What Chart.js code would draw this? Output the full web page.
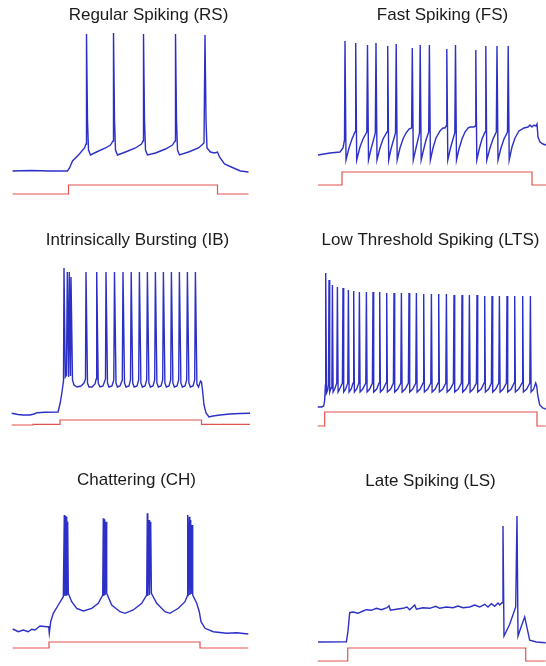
<!DOCTYPE html>
<html>
<head>
<meta charset="utf-8">
<title>Firing patterns</title>
<script src="https://cdn.jsdelivr.net/npm/chart.js@4.4.1/dist/chart.umd.min.js"></script>
<style>
    html, body { margin: 0; padding: 0; background: #ffffff; overflow: hidden; }
    #app { position: relative; width: 546px; height: 666px; }
    #app canvas { position: absolute; }
</style>
</head>
<body>
<div id="app"></div>
<script>
// Trazas: [tiempo ms, voltaje mV]
const rsVoltage = [
    [24,-71],[60,-70.5],[100,-71],[134,-71],[138,-68],[144,-61],[156,-55],[168,-48],[171,-44],
    [172,66],[174,-20],[176,-50],[180,-55],[192,-52],[210,-48],[220,-45],[225,-41],
    [226,67],[228,-20],[230,-50],[234,-55],[250,-52],[270,-48],[282,-44],[285,-41],
    [286,66],[288,-20],[290,-50],[294,-55],[310,-53],[330,-49],[344,-45],[349,-41],
    [350,66],[352,-20],[354,-50],[358,-55],[376,-52],[396,-48],[407,-43],
    [409,65],[411,-20],[413,-48],[420,-52],[428,-53],[434,-52],[438,-57],[448,-64],[466,-68],[480,-71],[496,-72]
];
const rsStimulus = [[24,-94],[136,-94],[136,-85],[434,-85],[434,-94],[496,-94]];

const fsVoltage = [
    [90,-55],[114,-53],[134,-52],[140,-48],[143,-40],
    [144,59],[146,-60],[152,-48],[158,-39],[164,-32],
    [165.4,57],[167.4,-60],[174,-47],[180,-39],[187.6,-32],
    [189,55],[191,-60],[196,-49],[201,-40],[204.6,-33],
    [206,57],[208,-60],[214,-48],[220,-39],[228,-32],
    [229.4,54],[231.4,-60],[236,-49],[241,-40],[245,-33],
    [246.4,56],[248.4,-60],[254,-48],[260,-39],[266,-33],[272,-29],[277.2,-28],
    [278.6,52],[280.6,-60],[286,-48],[293,-33],
    [294.4,55],[296.4,-60],[302,-48],[306,-40],[311.4,-32],
    [312.8,55],[314.8,-60],[320,-48],[326,-38],[334,-31],[340,-28],[344,-28],[346.2,-26],
    [347.6,51],[349.6,-60],[355,-48],[360,-39],[363.6,-33],
    [365,55],[367,-60],[372,-49],[378,-39],[384,-32],[390,-28],[394,-27],[398,-27],[402,-27],[404.2,-26],
    [405.6,50],[407.6,-60],[413,-48],[418,-39],[424.2,-32],
    [425.6,54],[427.6,-60],[434,-48],[440,-39],[446.6,-32],
    [448,54],[450,-60],[456,-48],[462,-39],[469,-32],
    [470.4,54],[472.4,-60],[478,-47],[484,-38],[492,-31],[502,-28],[510,-27],
    [514,-25],[518,-27],[522,-25],[526,-26],[528,-24],[530,-37],[534,-42],[540,-44],[546,-45]
];
const fsStimulus = [[90,-85],[138,-85],[138,-72],[518,-72],[518,-85],[546,-85]];

const ibVoltage = [
    [23.4,-88.3],[36,-89.5],[46,-90],[60,-90],[68,-89],[74,-87.7],[90,-87.3],[116,-87],[120,-79],[124,-67],[127,-56],
    [128,57],[130.6,-52],[133,-50],[134.6,53],[137.2,-52],[138.6,53],[141,-51],[142,48],[145,-55],
    [148,-60],[154,-62],[162,-61],[168,-58],[171,-54],
    [172,53],[175,-58],[178,-62],[184,-62],[190,-59],[192.4,-54],
    [193.4,53],[196.4,-58],[200,-62],[206,-61],[211,-54],
    [212,53],[215,-58],[218,-62],[224,-61],[227.6,-55],
    [229,53],[232,-58],[235,-62],[240,-61],[244.6,-55],
    [246,53],[249,-58],[252,-62],[258,-61],[261,-55],
    [262.4,53],[265.4,-58],[268.4,-62],[274,-61],[277.4,-55],
    [278.8,53],[281.8,-58],[284.8,-62],[290,-61],[293.4,-55],
    [294.8,53],[297.8,-58],[300.8,-62],[306,-61],[309.4,-55],
    [310.8,53],[313.8,-58],[316.8,-62],[322,-61],[325.4,-55],
    [326.8,53],[329.8,-58],[332.8,-62],[338,-61],[341.4,-55],
    [342.8,53],[345.8,-58],[348.8,-62],[354,-61],[357.4,-55],
    [358.8,53],[361.8,-58],[364.8,-62],[370,-61],[373.4,-55],
    [374.8,53],[377.8,-58],[380.8,-62],[386,-61],[389.4,-55],
    [390.8,53],[393.8,-59],[397,-62],[401,-56],[403,-57],[405,-65],[408,-80],[412,-88],[418,-92],
    [426,-91],[440,-90],[460,-89],[480,-88.5],[500,-88.3]
];
const ibStimulus = [[23.4,-100],[66,-100],[66,-99.3],[120,-99.3],[120,-95],[403,-95],[403,-99.3],[500,-99.3]];

const ltsVoltage = [
    [90,-82],[98,-82],[102,-81],[104,-75],[105.4,-60],
    [106,52],[107.6,-68],[110,-65],[111.6,-59],
    [112.6,45],[114,-67],[116.6,-63],[118.4,-59],
    [119.4,40],[120.8,-67],[124,-64],[128.2,-58],
    [129.4,38],[130.8,-67],[134,-64],[139.4,-58],
    [140.6,37],[142,-67],[146,-64],[150.2,-58],
    [151.4,35],[152.8,-67],[157,-64],[160.8,-58],
    [162,34],[163.4,-67],[168,-64],[172.2,-58],
    [173.4,33],[174.8,-67],[180,-64],[186.2,-58],
    [187.4,33],[188.8,-67],[194,-64],[199.4,-58],
    [200.6,33],[202,-67],[208,-64],[212.8,-58],
    [214,33],[215.4,-67],[221,-64],[226.8,-58],
    [228,32],[229.4,-67],[236,-64],[241.4,-58],
    [242.6,32],[244,-67],[250,-64],[256.2,-58],
    [257.4,32],[258.8,-67],[265,-64],[271.4,-58],
    [272.6,32],[274,-67],[280,-64],[286.2,-58],
    [287.4,32],[288.8,-67],[295,-64],[300.8,-58],
    [302,31],[303.4,-67],[310,-64],[316.2,-58],
    [317.4,31],[318.8,-67],[325,-64],[330.8,-58],
    [332,31],[333.4,-67],[340,-64],[346.2,-58],
    [347.4,31],[348.8,-67],[355,-64],[361.4,-58],
    [362.6,30],[364,-67],[371,-64],[377.4,-58],
    [378.6,30],[380,-67],[386,-64],[392.2,-58],
    [393.4,30],[394.8,-67],[401,-64],[407.4,-58],
    [408.6,30],[410,-67],[417,-64],[422.8,-58],
    [424,29],[425.4,-67],[432,-64],[437.4,-58],
    [438.6,29],[440,-67],[446,-64],[452.2,-58],
    [453.4,29],[454.8,-67],[461,-64],[467.4,-58],
    [468.6,29],[470,-67],[477,-64],[482.8,-58],
    [484,29],[485.4,-67],[492,-64],[498.8,-58],
    [500,29],[501.4,-67],[508,-64],[514.2,-58],
    [515.4,29],[516.8,-67],[522,-64],[526,-58],[528,-61],[530,-70],[534,-80],[540,-83],[546,-84]
];
const ltsStimulus = [[90,-101],[104,-101],[104,-87],[528.6,-87],[528.6,-101],[546,-101]];

const chVoltage = [
    [25.4,-64],[36.6,-66.7],[46.6,-65],[56.6,-66.7],[63.4,-64.3],[70,-65],[80,-61],[93.4,-61.7],[97.4,-61.7],
    [98.6,-68.3],[101.4,-56.7],[106.6,-48.3],[116.6,-40],[126.6,-31.7],
    [128.6,50],[129.6,-31],[131.4,49],[132.4,-30],[133.4,48.3],[134.4,-29],[135.4,43.3],[136.6,-28.3],
    [143.4,-36.7],[153.4,-43.3],[166.6,-46],[183.4,-43.3],[196.6,-38.3],[205.4,-30],
    [206.6,46.7],[207.6,-31],[209.4,45.7],[210.4,-30],[212,43.3],[213.4,-28.3],
    [223.4,-40],[240,-46.7],[250,-48.3],[266.6,-45],[283.4,-38.3],[293.4,-30],
    [294.6,51.7],[295.6,-31],[298,45],[299,-30],[301.4,43.3],[302.8,-28.3],
    [313.4,-38.3],[330,-46.7],[340,-48.3],[356.6,-43.3],[370,-36.7],[374.6,-31],
    [375.4,50],[376.4,-31],[378.6,48.3],[379.6,-30],[381.4,45],[382.4,-29],[384,40],[385.4,-30],
    [393.4,-38.3],[398.6,-46.7],[402,-56.7],[410,-63.3],[426.6,-66.7],[453.4,-68.3],[473.4,-67.7],[496.6,-69]
];
const chStimulus = [[25.4,-83],[98,-83],[98,-77],[400,-77],[400,-83],[496.6,-83]];

const lsVoltage = [
    [90.6,-76],[147.4,-75.7],[150.6,-65],[154,-46.7],[160.6,-46],[170.6,-47.3],[180.6,-45],[187.4,-43.7],
    [197.4,-44.3],[207.4,-42.3],[217.4,-43.7],[228.6,-41.7],[232.6,-39.7],[235.4,-44.3],[247.4,-43.3],
    [260.6,-42.3],[268.6,-41],[274,-43.7],[284,-39],[287.4,-43.3],[300.6,-41.7],[314,-42.3],[326,-40.3],
    [334,-42.3],[347.4,-41],[360.6,-41.7],[370.6,-40],[380.6,-41.7],[394,-41],[404,-39],[414,-41],
    [424,-38.3],[430.6,-41],[437.4,-37.7],[444,-40.3],[450.6,-37],[454,-39],[458.6,-36.7],
    [460.6,40],[462.6,-70],[474,-58.3],[486,-41],
    [488.6,50],[490.6,-70],[497.4,-60],[504,-51],[508.6,-61.7],[514,-74.3],[527.4,-76],[546,-76.7]
];
const lsStimulus = [[90,-95],[150,-95],[150,-82],[506,-82],[506,-95],[546,-95]];

const panels = [
    { title: 'Regular Spiking (RS)', volt: rsVoltage, stim: rsStimulus, left: 11.5, top: 0, xMin: 23 },
    { title: 'Fast Spiking (FS)', volt: fsVoltage, stim: fsStimulus, left: 306, top: 0, xMin: 66 },
    { title: 'Intrinsically Bursting (IB)', volt: ibVoltage, stim: ibStimulus, left: 1, top: 225, xMin: 2 },
    { title: 'Low Threshold Spiking (LTS)', volt: ltsVoltage, stim: ltsStimulus, left: 294.3, top: 225, xMin: 42.6 },
    { title: 'Chattering (CH)', volt: chVoltage, stim: chStimulus, left: 0, top: 465, xMin: 0 },
    { title: 'Late Spiking (LS)', volt: lsVoltage, stim: lsStimulus, left: 294.3, top: 466, xMin: 42.6 }
];

const toPoints = arr => arr.map(([t, v]) => ({ x: t, y: v }));
const app = document.getElementById('app');

panels.forEach(p => {
    const canvas = document.createElement('canvas');
    canvas.width = 273;
    canvas.height = 205;
    canvas.style.left = p.left + 'px';
    canvas.style.top = p.top + 'px';
    app.appendChild(canvas);

    new Chart(canvas, {
        type: 'line',
        data: {
            datasets: [
                { data: toPoints(p.volt), borderColor: '#2c30c6', borderWidth: 1.4, pointRadius: 0, tension: 0, fill: false },
                { data: toPoints(p.stim), borderColor: '#e2524f', borderWidth: 1.2, pointRadius: 0, tension: 0, fill: false }
            ]
        },
        options: {
            responsive: false,
            animation: false,
            devicePixelRatio: 1,
            layout: { padding: 0 },
            plugins: {
                legend: { display: false },
                tooltip: { enabled: false },
                title: {
                    display: true,
                    text: p.title,
                    color: '#1a1a1a',
                    font: { family: 'Liberation Sans, Arial, sans-serif', size: 17, weight: 'normal', lineHeight: 1.2 },
                    padding: { top: 5, bottom: 4.6 }
                }
            },
            scales: {
                x: { type: 'linear', display: false, min: p.xMin, max: p.xMin + 546 },
                y: { type: 'linear', display: false, min: -105, max: 70 }
            }
        }
    });
});
</script>
</body>
</html>
